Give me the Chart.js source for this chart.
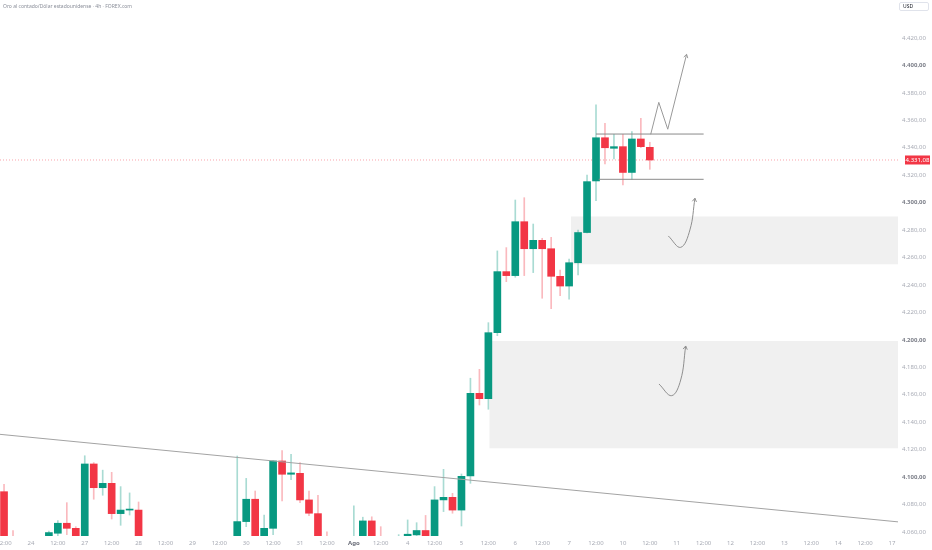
<!DOCTYPE html>
<html>
<head>
<meta charset="utf-8">
<script src="https://cdn.jsdelivr.net/npm/chart.js@4.4.1/dist/chart.umd.min.js"></script>
<style>
  html, body { margin: 0; padding: 0; background: #fff; }
  #wrap { position: relative; width: 932px; height: 550px; }
  #title { position: absolute; left: 3px; top: 3px; font: 5px "Noto Sans", sans-serif; color: #8a8e99; white-space: nowrap; }
  #usd { position: absolute; left: 899px; top: 2px; width: 30px; height: 9px; box-sizing: border-box; border: 1px solid #e0e3eb; border-radius: 2px; font: 5px "Noto Sans", sans-serif; line-height: 7px; padding-left: 3px; color: #131722; }
</style>
</head>
<body>
<div id="wrap">
  <canvas id="chart" width="932" height="550"></canvas>
  <div id="title">Oro al contado/Dólar estadounidense · 4h · FOREX.com</div>
  <div id="usd">USD</div>
</div>
<script>
// 4h candles, index 0 = first visible bar
const candleOpen = [
  4089.3, 4052, 4045, 4036, 4042, 4050, 4059, 4066.3, 4062.6, 4050,
  4109.5, 4092.2, 4095.4, 4073.3, 4075.9, 4075.9, 4048, 4034, 4040, 4032,
  4038, 4045, 4040, 4036, 4042, 4038, 4046, 4067.5, 4083.8, 4052,
  4062.6, 4111.7, 4102, 4102.7, 4083.3, 4073.3, 4050, 4042, 4035, 4040,
  4052, 4068, 4054, 4045, 4040, 4050, 4057.8, 4061, 4055, 4083.3,
  4085.2, 4075.9, 4100.8, 4161, 4157.1, 4205.2, 4249.7, 4246.8, 4286.1, 4266.4,
  4272.5, 4266.4, 4246.3, 4239.2, 4256.2, 4278.2, 4315.8, 4347.3, 4339.6, 4340.8,
  4322, 4346.4, 4340.3
];
const candleHigh = [
  4094.7, 4061, 4052, 4048, 4053, 4060.5, 4068.2, 4081.3, 4063.8, 4115.5,
  4110.5, 4105, 4103.4, 4093, 4088.4, 4081.8, 4054, 4045, 4050, 4042,
  4050, 4052, 4048, 4046, 4052, 4050, 4115.3, 4099, 4089.8, 4072.3,
  4112, 4119.2, 4116.6, 4110.5, 4089.8, 4086.7, 4060, 4050, 4045, 4079,
  4070.7, 4071, 4063.8, 4052, 4058, 4068.7, 4066.7, 4072, 4093, 4105.6,
  4088.1, 4102.2, 4172, 4178.5, 4212.5, 4264.8, 4267.2, 4301.9, 4303.6, 4284.4,
  4274, 4274.7, 4250.9, 4258.9, 4280, 4320.1, 4371.2, 4357.8, 4349.8, 4349.8,
  4351.7, 4361.5, 4344
];
const candleLow = [
  4048, 4040, 4030, 4028, 4035, 4052, 4056, 4058, 4045, 4046,
  4083.8, 4086.7, 4069.4, 4064.8, 4072.3, 4040, 4030, 4025, 4028, 4020,
  4030, 4035, 4030, 4025, 4034, 4030, 4040, 4063.8, 4048, 4048,
  4058, 4082.5, 4098, 4081.3, 4071.8, 4045, 4038, 4030, 4028, 4036,
  4048, 4048, 4040, 4036, 4035, 4046, 4052, 4050, 4052, 4074.8,
  4073.6, 4064.3, 4095.4, 4152.5, 4149.4, 4203, 4242.4, 4245.6, 4246.8, 4249,
  4230.3, 4222.7, 4232.2, 4229.6, 4247.3, 4278, 4301.4, 4328.2, 4331.8, 4312.9,
  4317, 4340, 4324.3
];
const candleClose = [
  4053, 4045, 4036, 4042, 4050, 4059.5, 4066.3, 4062.6, 4050, 4109.5,
  4092.2, 4095.4, 4073.3, 4075.9, 4076.2, 4048, 4034, 4040, 4032, 4038,
  4045, 4040, 4036, 4042, 4038, 4046, 4067.5, 4083.8, 4052, 4062.6,
  4111.7, 4102, 4103, 4083.3, 4073.6, 4050, 4042, 4035, 4040, 4052,
  4068, 4054, 4045, 4040, 4050, 4058.3, 4061, 4055, 4083.3, 4085.2,
  4075.9, 4100.5, 4161, 4157.1, 4205.2, 4249.7, 4246.8, 4286.1, 4266.4, 4272.5,
  4266.4, 4246.3, 4239.2, 4256.2, 4278.2, 4315.3, 4347.3, 4340, 4340.8, 4322,
  4346.4, 4340.8, 4331.08
];

// one label every 3 bars (12h)
const xTickLabels = [
  '12:00', '24', '12:00', '27', '12:00', '28', '12:00', '29', '12:00', '30',
  '12:00', '31', '12:00', 'Ago', '12:00', '4', '12:00', '5', '12:00', '6',
  '12:00', '7', '12:00', '10', '12:00', '11', '12:00', '12', '12:00', '13',
  '12:00', '14', '12:00', '17'
];
const yTickValues = [4060, 4080, 4100, 4120, 4140, 4160, 4180, 4200, 4220, 4240,
  4260, 4280, 4300, 4320, 4340, 4360, 4380, 4400, 4420];
const yStrongTicks = [4100, 4200, 4300, 4400];

// drawings (bar index, price)
const trendLine = [{ x: -0.45, y: 4131.1 }, { x: 99.67, y: 4067.3 }];
const rangeTop = [{ x: 66.0, y: 4350 }, { x: 78.0, y: 4350 }];
const rangeBottom = [{ x: 66.3, y: 4317 }, { x: 78.0, y: 4317 }];
const zigzagPath = [{ x: 72.1, y: 4349.8 }, { x: 73.0, y: 4373.1 }, { x: 74.0, y: 4353.5 }, { x: 76.1, y: 4408.1 }];
const bounceUpper = [{ x: 74.06, y: 4275.7 }, { x: 75.44, y: 4267.4 }, { x: 76.47, y: 4280.1 }, { x: 77.03, y: 4303.2 }];
const bounceLower = [{ x: 73.02, y: 4167.8 }, { x: 74.44, y: 4159.3 }, { x: 75.44, y: 4170.7 }, { x: 76.0, y: 4195.5 }];
const zoneUpper = { from: 63.2, top: 4289.8, bottom: 4255 };
const zoneLower = { from: 54.1, top: 4199.2, bottom: 4120.9 };

const xMin = -0.45, xMax = 99.67;
const yMin = 4057, yMax = 4447.7;

const up = '#089981', down = '#f23645';
const lastClose = candleClose[candleClose.length - 1];

function fmtPrice(v) {
  const parts = v.toFixed(2).split('.');
  return parts[0].replace(/\B(?=(\d{3})+(?!\d))/g, '.') + ',' + parts[1];
}

const isUp = candleClose.map((c, i) => c >= candleOpen[i]);
const isStrongY = ctx => !!(ctx.tick && yStrongTicks.includes(ctx.tick.value));
const isMonth = ctx => ctx.index !== undefined && xTickLabels[ctx.index] === 'Ago';

function lineSet(points, color, extra) {
  return Object.assign({
    type: 'line',
    data: points,
    borderColor: color,
    borderWidth: 1,
    pointRadius: 0,
    fill: false,
    tension: 0,
    order: 1,
    clip: 0
  }, extra || {});
}

function zoneSet(zone) {
  return lineSet([{ x: zone.from, y: zone.top }, { x: xMax, y: zone.top }], 'rgba(0,0,0,0)', {
    borderWidth: 0,
    fill: { value: zone.bottom },
    backgroundColor: '#f0f0f0',
    order: 10
  });
}

const arrowHeads = {
  id: 'arrowHeads',
  afterDatasetsDraw(chart) {
    const ctx = chart.ctx;
    chart.data.datasets.forEach((ds, idx) => {
      if (!ds.arrow) return;
      const pts = chart.getDatasetMeta(idx).data;
      const last = pts[pts.length - 1];
      let fx = pts[pts.length - 2].x, fy = pts[pts.length - 2].y;
      if (ds.tension && last.cp1x !== undefined) { fx = last.cp1x; fy = last.cp1y; }
      const a = Math.atan2(last.y - fy, last.x - fx);
      ctx.save();
      ctx.strokeStyle = ds.borderColor;
      ctx.lineWidth = 1;
      ctx.beginPath();
      ctx.moveTo(last.x - 4 * Math.cos(a - 0.55), last.y - 4 * Math.sin(a - 0.55));
      ctx.lineTo(last.x, last.y);
      ctx.lineTo(last.x - 4 * Math.cos(a + 0.55), last.y - 4 * Math.sin(a + 0.55));
      ctx.stroke();
      ctx.restore();
    });
  }
};

const priceTag = {
  id: 'priceTag',
  afterDraw(chart) {
    const ctx = chart.ctx;
    const y = chart.scales.y.getPixelForValue(lastClose);
    const left = chart.chartArea.right + 7;
    ctx.save();
    ctx.fillStyle = down;
    ctx.fillRect(left, y - 4.5, 25, 9);
    ctx.fillStyle = '#fff';
    ctx.font = '6px "Noto Sans", sans-serif';
    ctx.textBaseline = 'middle';
    ctx.textAlign = 'center';
    ctx.fillText(fmtPrice(lastClose), left + 12.5, y + 0.5);
    ctx.restore();
  }
};

new Chart(document.getElementById('chart'), {
  type: 'bar',
  data: {
    datasets: [
      zoneSet(zoneUpper),
      zoneSet(zoneLower),
      {
        type: 'bar',
        data: candleOpen.map((o, i) => ({ x: i, y: [candleLow[i], candleHigh[i]] })),
        backgroundColor: isUp.map(u => u ? 'rgba(8,153,129,0.35)' : 'rgba(242,54,69,0.35)'),
        barThickness: 1,
        grouped: false,
        order: 5,
        clip: 0
      },
      {
        type: 'bar',
        data: candleOpen.map((o, i) => ({ x: i, y: [o, candleClose[i]] })),
        backgroundColor: isUp.map(u => u ? up : down),
        barThickness: 7,
        minBarLength: 1,
        grouped: false,
        order: 4,
        clip: 0
      },
      lineSet([{ x: xMin, y: lastClose }, { x: xMax, y: lastClose }], 'rgba(242,54,69,0.45)', { borderDash: [1, 2], order: 6 }),
      lineSet(trendLine, '#a3a3a3'),
      lineSet(rangeTop, '#8a8a8a'),
      lineSet(rangeBottom, '#8a8a8a'),
      lineSet(zigzagPath, '#999999', { arrow: true }),
      lineSet(bounceUpper, '#8f8f8f', { arrow: true, tension: 0.4 }),
      lineSet(bounceLower, '#8f8f8f', { arrow: true, tension: 0.4 })
    ]
  },
  options: {
    responsive: false,
    animation: false,
    layout: { padding: 0 },
    plugins: { legend: { display: false }, tooltip: { enabled: false } },
    scales: {
      x: {
        type: 'linear',
        min: xMin,
        max: xMax,
        offset: false,
        grid: { display: false, drawTicks: false },
        border: { display: false },
        afterBuildTicks: scale => { scale.ticks = xTickLabels.map((t, k) => ({ value: k * 3 })); },
        afterFit: scale => { scale.height = 14; scale.paddingLeft = 0; scale.paddingRight = 0; },
        ticks: {
          autoSkip: false,
          maxRotation: 0,
          padding: 4,
          callback: (v, index) => xTickLabels[index],
          color: ctx => isMonth(ctx) ? '#6a6d78' : '#a8abb5',
          font: ctx => ({ family: 'Noto Sans', size: 6, weight: isMonth(ctx) ? 'bold' : 'normal' })
        }
      },
      y: {
        type: 'linear',
        position: 'right',
        min: yMin,
        max: yMax,
        grid: { display: false, drawTicks: false },
        border: { display: false },
        afterBuildTicks: scale => { scale.ticks = yTickValues.map(v => ({ value: v })); },
        afterFit: scale => { scale.width = 34; scale.paddingTop = 0; scale.paddingBottom = 0; },
        ticks: {
          padding: 4,
          callback: v => fmtPrice(v),
          color: ctx => isStrongY(ctx) ? '#7a7d87' : '#a8abb5',
          font: ctx => ({ family: 'Noto Sans', size: 6, weight: isStrongY(ctx) ? 'bold' : 'normal' })
        }
      }
    }
  },
  plugins: [arrowHeads, priceTag]
});
</script>
</body>
</html>
